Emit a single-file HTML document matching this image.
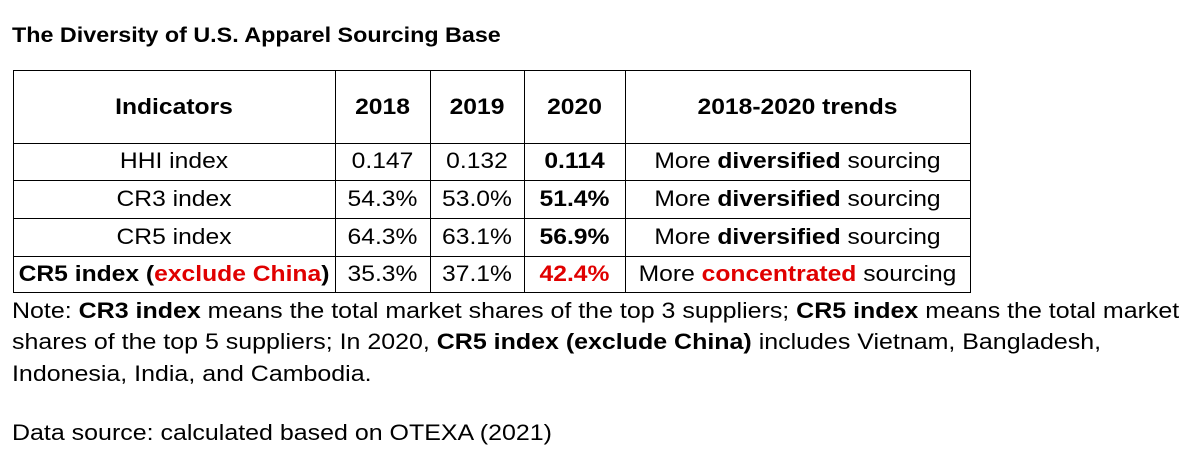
<!DOCTYPE html>
<html><head><meta charset="utf-8"><style>
body{margin:0;width:1191px;height:450px;background:#fff;position:relative;overflow:hidden;font-family:"Liberation Sans",sans-serif;color:#000}
.t{position:absolute;white-space:nowrap;font-size:22px;line-height:26px;transform:scaleX(1.135);transform-origin:left center}
.c{position:absolute;text-align:center;white-space:nowrap;font-size:22px;line-height:26px;transform:scaleX(1.12);transform-origin:center}
.r{color:#e00000}
.h{position:absolute;background:#000;height:1px}
.v{position:absolute;background:#000;width:1px}
</style></head><body>
<div class="t" style="left:12px;top:23px;font-weight:bold;font-size:21px;transform:scaleX(1.11)">The Diversity of U.S. Apparel Sourcing Base</div>

<div class="h" style="left:13px;top:70px;width:958px"></div>
<div class="h" style="left:13px;top:143px;width:958px"></div>
<div class="h" style="left:13px;top:180px;width:958px"></div>
<div class="h" style="left:13px;top:218px;width:958px"></div>
<div class="h" style="left:13px;top:256px;width:958px"></div>
<div class="h" style="left:13px;top:292px;width:958px"></div>
<div class="v" style="left:13px;top:70px;height:223px"></div>
<div class="v" style="left:335px;top:70px;height:223px"></div>
<div class="v" style="left:430px;top:70px;height:223px"></div>
<div class="v" style="left:524px;top:70px;height:223px"></div>
<div class="v" style="left:625px;top:70px;height:223px"></div>
<div class="v" style="left:970px;top:70px;height:223px"></div>

<div style="font-weight:bold">
<div class="c" style="left:13px;width:322px;top:94px">Indicators</div>
<div class="c" style="left:335px;width:95px;top:94px">2018</div>
<div class="c" style="left:430px;width:94px;top:94px">2019</div>
<div class="c" style="left:524px;width:101px;top:94px">2020</div>
<div class="c" style="left:625px;width:345px;top:94px">2018-2020 trends</div>
</div>

<div class="c" style="left:13px;width:322px;top:148px">HHI index</div>
<div class="c" style="left:335px;width:95px;top:148px">0.147</div>
<div class="c" style="left:430px;width:94px;top:148px">0.132</div>
<div class="c" style="left:524px;width:101px;top:148px;font-weight:bold">0.114</div>
<div class="c" style="left:625px;width:345px;top:148px">More <b>diversified</b> sourcing</div>

<div class="c" style="left:13px;width:322px;top:186px">CR3 index</div>
<div class="c" style="left:335px;width:95px;top:186px">54.3%</div>
<div class="c" style="left:430px;width:94px;top:186px">53.0%</div>
<div class="c" style="left:524px;width:101px;top:186px;font-weight:bold">51.4%</div>
<div class="c" style="left:625px;width:345px;top:186px">More <b>diversified</b> sourcing</div>

<div class="c" style="left:13px;width:322px;top:224px">CR5 index</div>
<div class="c" style="left:335px;width:95px;top:224px">64.3%</div>
<div class="c" style="left:430px;width:94px;top:224px">63.1%</div>
<div class="c" style="left:524px;width:101px;top:224px;font-weight:bold">56.9%</div>
<div class="c" style="left:625px;width:345px;top:224px">More <b>diversified</b> sourcing</div>

<div class="c" style="left:13px;width:322px;top:261px;font-weight:bold">CR5 index (<span class="r">exclude China</span>)</div>
<div class="c" style="left:335px;width:95px;top:261px">35.3%</div>
<div class="c" style="left:430px;width:94px;top:261px">37.1%</div>
<div class="c" style="left:524px;width:101px;top:261px;font-weight:bold"><span class="r">42.4%</span></div>
<div class="c" style="left:625px;width:345px;top:261px">More <b class="r">concentrated</b> sourcing</div>

<div class="t" style="left:12px;top:298px">Note: <b>CR3 index</b> means the total market shares of the top 3 suppliers; <b>CR5 index</b> means the total market</div>
<div class="t" style="left:12px;top:329px">shares of the top 5 suppliers; In 2020, <b>CR5 index (exclude China)</b> includes Vietnam, Bangladesh,</div>
<div class="t" style="left:12px;top:361px">Indonesia, India, and Cambodia.</div>
<div class="t" style="left:12px;top:420px">Data source: calculated based on OTEXA (2021)</div>
</body></html>
